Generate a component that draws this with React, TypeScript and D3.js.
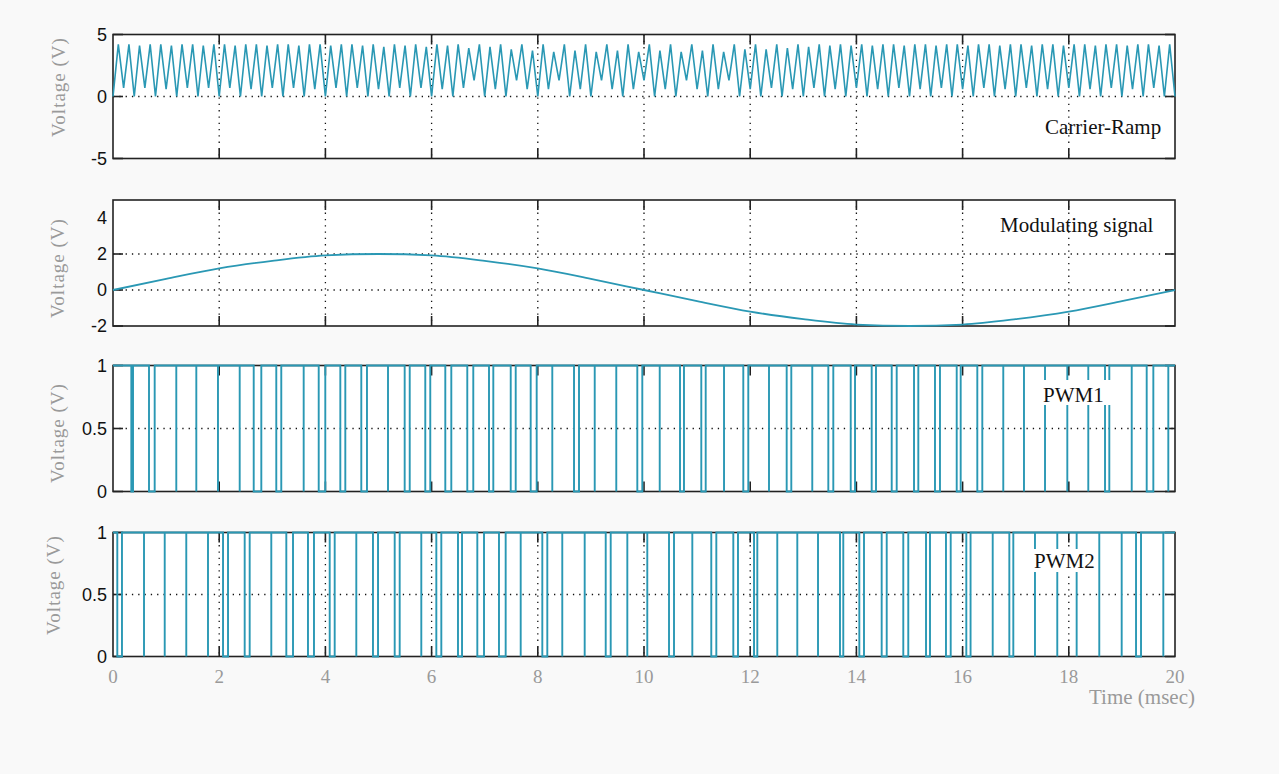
import React from 'react';
import * as d3 from 'd3';

// time axis (msec)
const timeTicks = [0, 2, 4, 6, 8, 10, 12, 14, 16, 18, 20];

const carrierPeriod = 0.2;
const carrierPeaks = [
  4.2, 4.2, 4.1, 4.2, 4.2, 4.1, 4.2, 4.2, 4.1, 4.2,
  4.2, 4.1, 4.2, 4.2, 4.1, 4.2, 4.2, 4.1, 4.2, 4.2,
  4.1, 4.2, 4.2, 4.1, 4.2, 4.0, 4.2, 4.1, 4.2, 4.0,
  4.2, 4.1, 4.2, 3.9, 4.2, 4.0, 4.2, 3.8, 4.2, 3.7,
  4.2, 3.6, 4.2, 3.7, 4.2, 3.6, 4.2, 3.7, 4.2, 3.6,
  4.2, 3.7, 4.2, 3.6, 4.2, 3.7, 4.2, 3.6, 4.2, 3.8,
  4.2, 3.8, 4.2, 3.9, 4.2, 4.0, 4.2, 4.1, 4.2, 4.1,
  4.2, 4.1, 4.2, 4.2, 4.1, 4.2, 4.2, 4.1, 4.2, 4.2,
  4.1, 4.2, 4.2, 4.1, 4.2, 4.2, 4.1, 4.2, 4.2, 4.1,
  4.2, 4.2, 4.1, 4.2, 4.2, 4.1, 4.2, 4.2, 4.1, 4.2,
];
const carrierLows = [
  0.0, 0.7, 0.0, 0.7, 0.0, 0.6, 0.0, 0.7, 0.0, 0.7,
  0.0, 0.7, 0.0, 0.6, 0.0, 0.7, 0.0, 0.7, 0.0, 0.6,
  0.0, 0.7, 0.0, 0.7, 0.0, 0.6, 0.0, 0.7, 0.0, 0.7,
  0.0, 0.6, 0.0, 0.7, 1.3, 0.0, 0.6, 0.0, 1.3, 0.6,
  0.0, 0.6, 1.3, 0.0, 0.6, 0.0, 1.3, 0.6, 0.0, 0.6,
  1.3, 0.0, 0.6, 0.0, 1.3, 0.6, 0.0, 0.6, 1.3, 0.0,
  0.6, 0.0, 0.7, 0.0, 0.6, 0.0, 0.7, 0.0, 0.6, 0.0,
  0.7, 0.0, 0.6, 0.0, 0.7, 0.0, 0.6, 0.0, 0.7, 0.0,
  0.6, 0.0, 0.7, 0.0, 0.6, 0.0, 0.7, 0.0, 0.6, 0.0,
  0.7, 0.0, 0.6, 0.0, 0.7, 0.0, 0.6, 0.0, 0.7, 0.0,
  0.0,
];

// modulating signal, read every msec
const modTimes = [0, 1, 2, 3, 4, 5, 6, 7, 8, 9, 10, 11, 12, 13, 14, 15, 16, 17, 18, 19, 20];
const modValues = [
  0, 0.62, 1.2, 1.62, 1.92, 2.0, 1.92, 1.62, 1.2, 0.62,
  0, -0.62, -1.2, -1.62, -1.92, -2.0, -1.92, -1.62, -1.2, -0.62, 0,
];

// PWM outputs: intervals (msec) where the signal drops to 0
const pwm1Lows: [number, number][] = [
  [0.345, 0.377], [0.678, 0.785], [1.192, 1.192], [1.569, 1.569], [1.977, 1.977],
  [2.386, 2.386], [2.650, 2.793], [3.075, 3.169], [3.591, 3.591], [3.874, 3.998],
  [4.281, 4.375], [4.676, 4.783], [5.179, 5.179], [5.493, 5.588], [5.881, 5.975],
  [6.258, 6.371], [6.672, 6.785], [7.081, 7.162], [7.490, 7.584], [7.866, 7.979],
  [8.273, 8.273], [8.682, 8.776], [9.072, 9.072], [9.478, 9.478], [9.874, 9.968],
  [10.296, 10.296], [10.678, 10.753], [11.079, 11.162], [11.507, 11.507], [11.870, 11.964],
  [12.354, 12.354], [12.687, 12.774], [13.169, 13.169], [13.471, 13.565], [13.893, 13.974],
  [14.288, 14.369], [14.665, 14.759], [15.085, 15.166], [15.480, 15.574], [15.889, 15.964],
  [16.277, 16.371], [16.766, 16.766], [17.156, 17.156], [17.552, 17.552], [17.972, 17.972],
  [18.367, 18.367], [18.682, 18.763], [19.185, 19.185], [19.467, 19.592], [19.874, 19.874],
];
const pwm2Lows: [number, number][] = [
  [0.081, 0.169], [0.584, 0.584], [0.974, 0.974], [1.380, 1.380], [1.789, 1.789],
  [2.072, 2.166], [2.480, 2.574], [2.981, 2.981], [3.264, 3.390], [3.672, 3.785],
  [4.081, 4.175], [4.582, 4.582], [4.896, 4.991], [5.305, 5.399], [5.806, 5.806],
  [6.089, 6.183], [6.497, 6.573], [6.861, 6.987], [7.269, 7.395], [7.678, 7.678],
  [8.085, 8.179], [8.461, 8.461], [8.883, 8.883], [9.279, 9.373], [9.686, 9.686],
  [10.062, 10.062], [10.471, 10.565], [10.910, 10.910], [11.267, 11.362], [11.682, 11.770],
  [12.072, 12.134], [12.510, 12.510], [12.887, 12.887], [13.277, 13.277], [13.691, 13.753],
  [14.055, 14.143], [14.476, 14.571], [14.883, 14.977], [15.311, 15.386], [15.687, 15.776],
  [16.070, 16.150], [16.567, 16.567], [16.880, 16.955], [17.363, 17.363], [17.783, 17.783],
  [18.148, 18.148], [18.574, 18.574], [18.996, 18.996], [19.266, 19.360], [19.780, 19.780],
];

const BLUE = '#2a98b4';
const SERIF = '"Liberation Serif", "Times New Roman", serif';
const SANS = '"Liberation Sans", Arial, sans-serif';

const x = d3.scaleLinear().domain([0, 20]).range([113, 1175]);

type Pt = [number, number];

const carrierPts: Pt[] = carrierPeaks
  .flatMap((p, i): Pt[] => [
    [i * carrierPeriod, carrierLows[i]],
    [i * carrierPeriod + carrierPeriod / 2, p],
  ])
  .concat([[carrierPeaks.length * carrierPeriod, carrierLows[carrierPeaks.length]]]);

const modPts: Pt[] = modTimes.map((t, i) => [t, modValues[i]]);

const pwmPts = (lows: [number, number][]): Pt[] => {
  const pts: Pt[] = [[0, 1]];
  lows.forEach(([a, b]) => {
    pts.push([a, 1], [a, 0], [b, 0], [b, 1]);
  });
  pts.push([20, 1]);
  return pts;
};

const panels = [
  {
    id: 'carrier', top: 34.5, bottom: 158.5, domain: [-5, 5], labels: [-5, 0, 5], tickMarks: [-5, 0, 5],
    grid: [0], vgrid: true, pts: carrierPts, curve: d3.curveLinear, sw: 1.6,
    label: 'Carrier-Ramp', lx: 1045, ly: 134, box: null as null | number[], ylY: 87, ylX: 58,
  },
  {
    id: 'mod', top: 200, bottom: 326, domain: [-2, 5], labels: [-2, 0, 2, 4], tickMarks: [-2, 0, 2],
    grid: [0, 2], vgrid: true, pts: modPts, curve: d3.curveMonotoneX, sw: 1.8,
    label: 'Modulating signal', lx: 1000, ly: 232, box: null, ylY: 268, ylX: 57,
  },
  {
    id: 'pwm1', top: 365.5, bottom: 491.5, domain: [0, 1], labels: [0, 0.5, 1], tickMarks: [0, 0.5, 1],
    grid: [0.5], vgrid: false, pts: pwmPts(pwm1Lows), curve: d3.curveLinear, sw: 1.9,
    label: 'PWM1', lx: 1043, ly: 402, box: [1040, 380, 71, 25], ylY: 433, ylX: 57,
  },
  {
    id: 'pwm2', top: 532.5, bottom: 656.5, domain: [0, 1], labels: [0, 0.5, 1], tickMarks: [0, 0.5, 1],
    grid: [0.5], vgrid: true, pts: pwmPts(pwm2Lows), curve: d3.curveLinear, sw: 1.9,
    label: 'PWM2', lx: 1034, ly: 568, box: [1031, 549, 67, 23], ylY: 585, ylX: 53,
  },
];

const TICK = 10;

const Panel = ({ p }: { p: (typeof panels)[number] }) => {
  const y = d3.scaleLinear().domain(p.domain).range([p.bottom, p.top]);
  const line = d3
    .line<Pt>()
    .x((d) => x(d[0]))
    .y((d) => y(d[1]))
    .curve(p.curve);
  const [x0, x1] = x.range();
  const inner = timeTicks.slice(1, -1);
  return (
    <g>
      <rect x={x0} y={p.top} width={x1 - x0} height={p.bottom - p.top} fill="#fff" />
      {/* dotted grid */}
      {p.grid.map((v) => (
        <line key={'h' + v} x1={x0} x2={x1} y1={y(v)} y2={y(v)}
          stroke="#111" strokeWidth={1.3} strokeDasharray="1.3,5" />
      ))}
      {p.vgrid &&
        inner.map((t) => (
          <line key={'v' + t} x1={x(t)} x2={x(t)} y1={p.top} y2={p.bottom}
            stroke="#111" strokeWidth={1.3} strokeDasharray="1.3,5" />
        ))}
      {/* box and inward ticks */}
      <rect x={x0} y={p.top} width={x1 - x0} height={p.bottom - p.top}
        fill="none" stroke="#222" strokeWidth={1.6} />
      {inner.map((t) => (
        <g key={'xt' + t} stroke="#222" strokeWidth={1.6}>
          <line x1={x(t)} x2={x(t)} y1={p.top} y2={p.top + TICK} />
          <line x1={x(t)} x2={x(t)} y1={p.bottom} y2={p.bottom - TICK} />
        </g>
      ))}
      {p.tickMarks.map((v) => (
        <g key={'yt' + v} stroke="#222" strokeWidth={1.6}>
          <line x1={x0} x2={x0 + TICK} y1={y(v)} y2={y(v)} />
          <line x1={x1} x2={x1 - TICK} y1={y(v)} y2={y(v)} />
        </g>
      ))}
      {/* signal */}
      <path d={line(p.pts) ?? ''} fill="none" stroke={BLUE} strokeWidth={p.sw} />
      {/* y tick labels */}
      {p.labels.map((v) => (
        <text key={'yl' + v} x={107} y={y(v)} dy="0.36em" textAnchor="end"
          fontFamily={SANS} fontSize={18} fill="#111">
          {String(v)}
        </text>
      ))}
      {/* in-plot label */}
      {p.box && <rect x={p.box[0]} y={p.box[1]} width={p.box[2]} height={p.box[3]} fill="#fff" />}
      <text x={p.lx} y={p.ly} fontFamily={SERIF} fontSize={21} fill="#111">
        {p.label}
      </text>
      {/* y axis title */}
      <text transform={`translate(${p.ylX},${p.ylY}) rotate(-90)`} textAnchor="middle" dy="0.35em"
        fontFamily={SERIF} fontSize={19} letterSpacing={1} fill="#9a9a9a">
        Voltage (V)
      </text>
    </g>
  );
};

export default function App() {
  const last = panels[panels.length - 1];
  return (
    <svg width={1279} height={774} style={{ position: 'absolute', left: 0, top: 0, background: '#f9f9f9' }}>
      {panels.map((p) => (
        <Panel key={p.id} p={p} />
      ))}
      {timeTicks.map((t) => (
        <text key={'xl' + t} x={x(t)} y={last.bottom + 26} textAnchor="middle"
          fontFamily={SERIF} fontSize={19} fill="#9a9a9a">
          {String(t)}
        </text>
      ))}
      <text x={1195} y={704} textAnchor="end" fontFamily={SERIF} fontSize={21} fill="#9a9a9a">
        Time (msec)
      </text>
    </svg>
  );
}
